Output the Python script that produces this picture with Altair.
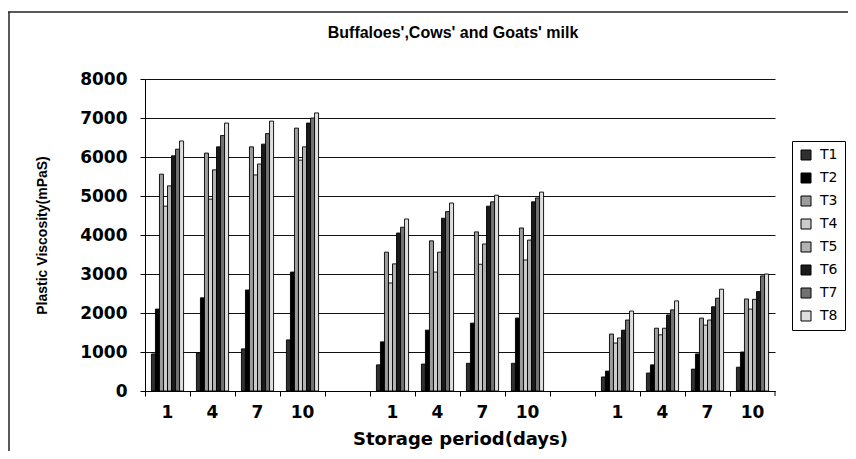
import altair as alt
import pandas as pd

title_text = "Buffaloes',Cows' and Goats' milk"
groups = ["Buffaloes", "Cows", "Goats"]
days = ["1", "4", "7", "10"]
treatments = ["T1", "T2", "T3", "T4", "T5", "T6", "T7", "T8"]

buffalo = {
    "T1": [950, 980, 1080, 1310],
    "T2": [2100, 2390, 2590, 3050],
    "T3": [5560, 6100, 6260, 6740],
    "T4": [4740, 4920, 5540, 5920],
    "T5": [5260, 5670, 5820, 6260],
    "T6": [6030, 6260, 6330, 6870],
    "T7": [6200, 6550, 6600, 7000],
    "T8": [6410, 6870, 6920, 7130],
}
cow = {
    "T1": [670, 690, 710, 710],
    "T2": [1260, 1560, 1740, 1870],
    "T3": [3560, 3850, 4080, 4180],
    "T4": [2770, 3050, 3250, 3360],
    "T5": [3260, 3560, 3770, 3870],
    "T6": [4050, 4430, 4740, 4850],
    "T7": [4200, 4600, 4850, 4950],
    "T8": [4410, 4820, 5020, 5100],
}
goat = {
    "T1": [360, 460, 560, 610],
    "T2": [510, 670, 950, 1000],
    "T3": [1460, 1610, 1870, 2360],
    "T4": [1230, 1440, 1690, 2100],
    "T5": [1360, 1610, 1820, 2350],
    "T6": [1560, 1950, 2160, 2550],
    "T7": [1820, 2080, 2380, 2950],
    "T8": [2050, 2310, 2610, 3000],
}
fills = ["#303030", "#000000", "#9c9c9c", "#cccccc", "#b2b2b2", "#1a1a1a", "#727272", "#dedede"]
y_ticks = [0, 1000, 2000, 3000, 4000, 5000, 6000, 7000, 8000]

rows = []
for g, table in zip(groups, [buffalo, cow, goat]):
    for t in treatments:
        for d, v in zip(days, table[t]):
            rows.append({"cat": f"{g}|{d}", "treat": t, "value": v})
df = pd.DataFrame(rows)

domain = []
for i, g in enumerate(groups):
    domain += [f"{g}|{d}" for d in days]
    if i < len(groups) - 1:
        domain.append(f"gap{i}|")

# slot order inside each category band: an empty slot each side, then T1..T8
offset_domain = ["pad_l"] + treatments + ["pad_r"]

W, H = 630, 312

bars = alt.Chart(df).mark_bar(stroke="black", strokeWidth=0.9).encode(
    x=alt.X(
        "cat:N",
        scale=alt.Scale(domain=domain, paddingInner=0, paddingOuter=0),
        axis=alt.Axis(
            title="Storage period(days)",
            labelExpr="split(datum.value,'|')[1]",
            bandPosition=0,
            labelAngle=0,
            labelPadding=8,
            tickSize=5,
            titleX=W / 2,
            titleY=48,
            titleBaseline="middle",
            titleAlign="center",
            titleFont="DejaVu Sans",
            titleFontSize=18,
            titleFontWeight="bold",
        ),
    ),
    xOffset=alt.XOffset("treat:N", scale=alt.Scale(domain=offset_domain, paddingInner=0, paddingOuter=0.6)),
    y=alt.Y(
        "value:Q",
        scale=alt.Scale(domain=[0, 8000], nice=False),
        axis=alt.Axis(
            values=y_ticks,
            format="d",
            title="Plastic Viscosity(mPaS)",
            titleX=-103,
            titleY=H / 2,
            titleAngle=-90,
            titleBaseline="middle",
            titleAlign="center",
            titleFont="Liberation Sans",
            titleFontSize=14,
            titleFontWeight="bold",
            grid=True,
            gridColor="#111111",
            gridWidth=1,
            tickSize=5,
            labelPadding=13,
        ),
    ),
    fill=alt.Fill(
        "treat:N",
        scale=alt.Scale(domain=treatments, range=fills),
        legend=alt.Legend(
            title=None,
            orient="none",
            legendX=647,
            legendY=62,
            symbolType="square",
            symbolSize=100,
            symbolStrokeColor="black",
            symbolStrokeWidth=1,
            labelFont="DejaVu Sans",
            labelFontSize=14,
            labelColor="black",
            labelOffset=7,
            rowPadding=9,
            padding=7,
            strokeColor="black",
            fillColor="white",
        ),
    ),
)

one = alt.Data(values=[{"label": title_text}])
title_mark = alt.Chart(one).mark_text(
    font="Liberation Sans", fontSize=16, fontWeight="bold", color="black", align="center", baseline="middle"
).encode(x=alt.value(308), y=alt.value(-46), text="label:N")

frame_top = alt.Chart(one).mark_rule(color="#222222", strokeWidth=1.5).encode(
    x=alt.value(-137), x2=alt.value(711), y=alt.value(-67)
)
frame_left = alt.Chart(one).mark_rule(color="#222222", strokeWidth=1.5).encode(
    x=alt.value(-136), y=alt.value(-67), y2=alt.value(380)
)
end_tick = alt.Chart(one).mark_rule(color="black", strokeWidth=1).encode(
    x=alt.value(W), y=alt.value(H), y2=alt.value(H + 5)
)

chart = alt.layer(bars, title_mark, frame_top, frame_left, end_tick).properties(
    width=W,
    height=H,
    autosize=alt.AutoSizeParams(type="none"),
    padding={"left": 137, "top": 71, "right": 73, "bottom": 60},
).configure_view(stroke=None).configure_axis(
    domainColor="black",
    tickColor="black",
    labelColor="black",
    titleColor="black",
    labelFont="DejaVu Sans",
    labelFontSize=17,
    labelFontWeight="bold",
)

chart.save("out.html", embed_options={"renderer": "svg", "actions": False})
